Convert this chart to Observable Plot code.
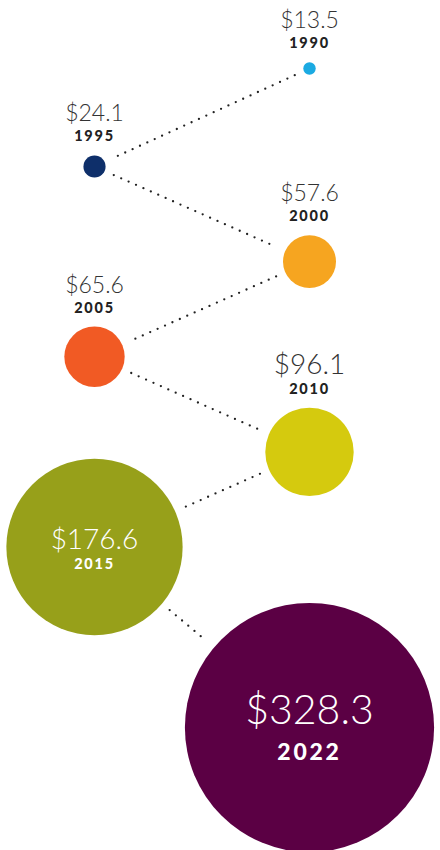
<!DOCTYPE html>
<html><head><meta charset="utf-8">
<script src="https://cdn.jsdelivr.net/npm/d3@7"></script>
<script src="https://cdn.jsdelivr.net/npm/@observablehq/plot@0.6"></script>
<style>
body{margin:0;background:#fff;overflow:hidden}
#chart svg{display:block;overflow:visible}
</style></head><body><div id="chart"></div>
<script>
// Data
const years = [1990, 1995, 2000, 2005, 2010, 2015, 2022];
const values = [13.5, 24.1, 57.6, 65.6, 96.1, 176.6, 328.3];
const palette = ["#1BAAE2", "#0E2F6A", "#F6A520", "#F15A24", "#D5CA0E", "#97A01A", "#5B0044"];

const data = years.map((year, i) => ({
  year,
  value: values[i],
  side: i % 2 === 0 ? "right" : "left",
  label: "$" + values[i].toFixed(1)
}));
const segments = data.slice(1).map((d, i) => ({a: data[i], b: d}));

const xOpt = {type: "point", domain: ["left", "right"], range: [94, 309], padding: 0, axis: null};
const yOpt = {type: "linear", domain: [1990, 1995, 2015, 2022], range: [68, 166, 546.5, 727], axis: null};
const rOpt = {type: "linear", domain: [0, 100, 180, 330], range: [0, 46, 90, 125]};
const rScale = Plot.scale({r: rOpt});

const linkMarks = segments.map(s => Plot.arrow([s], {
  x1: d => d.a.side, y1: d => d.a.year,
  x2: d => d.b.side, y2: d => d.b.year,
  insetStart: rScale.apply(s.a.value) + 10,
  insetEnd: rScale.apply(s.b.value) + 10,
  headLength: 0,
  stroke: "#222",
  strokeWidth: 2.3,
  strokeDasharray: "0 8.1",
  strokeLinecap: "round"
}));

const labelMarks = data.flatMap(d => {
  const r = rScale.apply(d.value);
  const inside = d.value > 150;
  const big = d.value > 300;
  const vSize = d.value < 90 ? 23 : big ? 41 : 28;
  const ySize = big ? 23 : 14.5;
  const vDy = inside ? (big ? -4 : 2) : -(r + 34);
  const yDy = inside ? (big ? 32 : 22) : -(r + 14);
  return [
    Plot.text([d], {x: "side", y: "year", text: "label", dy: vDy, fontSize: vSize,
      fontWeight: 300, fill: inside ? "white" : "#333", lineAnchor: "bottom", fontFamily: "Lato"}),
    Plot.text([d], {x: "side", y: "year", text: e => String(e.year), dy: yDy, fontSize: ySize,
      fontWeight: 900, fill: inside ? "white" : "#222", lineAnchor: "bottom", fontFamily: "Lato"})
  ];
});

const chart = Plot.plot({
  width: 440,
  height: 850,
  margin: 0,
  x: xOpt,
  y: yOpt,
  r: rOpt,
  color: {type: "ordinal", domain: years, range: palette},
  style: {background: "white", fontFamily: "Lato"},
  marks: [
    ...linkMarks,
    Plot.dot(data, {x: "side", y: "year", r: "value", fill: "year"}),
    ...labelMarks
  ]
});
chart.querySelectorAll('g[font-weight="900"]').forEach(g => {
  g.style.letterSpacing = (parseFloat(g.getAttribute("font-size")) * 0.12) + "px";
});
document.getElementById("chart").appendChild(chart);
</script></body></html>
